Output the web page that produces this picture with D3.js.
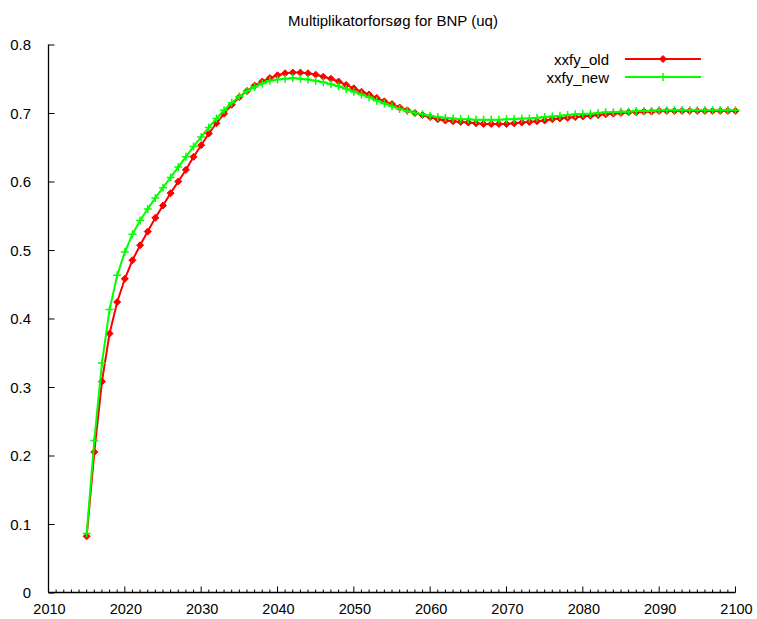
<!DOCTYPE html>
<html>
<head>
<meta charset="utf-8">
<script src="https://cdn.jsdelivr.net/npm/d3@7"></script>
<style>
  body { margin: 0; background: #fff; }
  svg text { font-family: "Liberation Sans", Arial, sans-serif; fill: #000; font-size: 15px; }
</style>
</head>
<body>
<script>
// data
let years = d3.range(2015, 2101)
let xxfy_old = [
  0.082, 0.205, 0.308, 0.378, 0.424, 0.458, 0.485, 0.507, 0.527, 0.547,
  0.565, 0.583, 0.600, 0.617, 0.636, 0.653, 0.670, 0.685, 0.699, 0.712,
  0.723, 0.732, 0.740, 0.746, 0.751, 0.755, 0.758, 0.759, 0.759, 0.758,
  0.756, 0.753, 0.750, 0.746, 0.741, 0.736, 0.731, 0.727, 0.722, 0.717,
  0.713, 0.708, 0.704, 0.700, 0.697, 0.694, 0.691, 0.689, 0.688, 0.687,
  0.686, 0.685, 0.684, 0.684, 0.684, 0.684, 0.685, 0.686, 0.687, 0.688,
  0.689, 0.691, 0.692, 0.693, 0.694, 0.695, 0.696, 0.697, 0.698, 0.699,
  0.700, 0.701, 0.701, 0.702, 0.702, 0.703, 0.703, 0.703, 0.703, 0.703,
  0.703, 0.703, 0.703, 0.703, 0.703, 0.703
]
let xxfy_new = [
  0.086, 0.222, 0.335, 0.413, 0.463, 0.497, 0.523, 0.543, 0.560, 0.576,
  0.591, 0.606, 0.621, 0.636, 0.651, 0.665, 0.679, 0.692, 0.704, 0.715,
  0.724, 0.732, 0.738, 0.743, 0.747, 0.749, 0.750, 0.751, 0.750, 0.749,
  0.747, 0.745, 0.742, 0.739, 0.735, 0.731, 0.727, 0.723, 0.718, 0.714,
  0.710, 0.706, 0.703, 0.700, 0.698, 0.696, 0.694, 0.693, 0.692, 0.691,
  0.691, 0.690, 0.690, 0.690, 0.690, 0.691, 0.691, 0.692, 0.692, 0.693,
  0.694, 0.695, 0.696, 0.697, 0.698, 0.699, 0.699, 0.700, 0.701, 0.701,
  0.702, 0.702, 0.703, 0.703, 0.703, 0.704, 0.704, 0.704, 0.704, 0.704,
  0.704, 0.704, 0.704, 0.704, 0.704, 0.704
]
let yTicks = [0, 0.1, 0.2, 0.3, 0.4, 0.5, 0.6, 0.7, 0.8]
let xTicks = [2010, 2020, 2030, 2040, 2050, 2060, 2070, 2080, 2090, 2100]
let title = "Multiplikatorforsøg for BNP (uq)"

let W = 757, H = 619
let svg = d3.select('body')
    .append('svg')
    .attr('width', W)
    .attr('height', H)

let x = d3.scaleLinear().domain([2010, 2100]).range([48.5, 735.5])
let y = d3.scaleLinear().domain([0, 0.8]).range([592.5, 44.5])

svg.append('text')
    .attr('x', 393)
    .attr('y', 26)
    .attr('text-anchor', 'middle')
    .text(title)

// axes: only left and bottom, ticks pointing inward
let yAxis = svg.append('g')
    .attr('transform', `translate(${x.range()[0]},0)`)
    .call(d3.axisRight(y).tickValues(yTicks).tickSize(6).tickFormat(''))
yAxis.select('.domain').attr('d', `M0,${y(0.8)}H0V${y(0)}`).attr('stroke-width', 1.3)
yAxis.selectAll('.tick line').attr('stroke-width', 1)

svg.selectAll('.ylab')
    .data(yTicks)
    .enter()
    .append('text')
    .attr('class', 'ylab')
    .attr('x', 31)
    .attr('y', d => y(d) + 5.5)
    .attr('text-anchor', 'end')
    .text(d => d === 0 ? '0' : d3.format('.1f')(d))

let xAxis = svg.append('g')
    .attr('transform', `translate(0,${y.range()[0]})`)
xAxis.append('path')
    .attr('d', `M${x(2010)},0H${x(2100)}`)
    .attr('stroke', 'black')
    .attr('stroke-width', 1.3)
xAxis.selectAll('line.minor')
    .data(d3.range(2010, 2101))
    .enter()
    .append('line')
    .attr('x1', d => x(d))
    .attr('x2', d => x(d))
    .attr('y1', 0)
    .attr('y2', d => d % 10 === 0 ? -6 : -3)
    .attr('stroke', 'black')
    .attr('stroke-width', 1)

svg.selectAll('.xlab')
    .data(xTicks)
    .enter()
    .append('text')
    .attr('class', 'xlab')
    .attr('x', d => x(d) + 1)
    .attr('y', 614)
    .attr('text-anchor', 'middle')
    .style('font-size', '14.5px')
    .text(d => d)

let series = [
  { name: 'xxfy_old', values: xxfy_old, color: '#ff0000', symbol: 'diamond' },
  { name: 'xxfy_new', values: xxfy_new, color: '#00ff00', symbol: 'plus' }
]

let line = d3.line()
    .x((d, i) => x(years[i]))
    .y(d => y(d))

function drawMarker(g, symbol, color) {
  if (symbol === 'diamond') {
    g.append('path')
        .attr('d', 'M0,-3.5L3.5,0L0,3.5L-3.5,0Z')
        .attr('fill', color)
        .attr('stroke', color)
        .attr('stroke-width', 1)
  } else {
    g.append('path')
        .attr('d', 'M-4,0H4M0,-4V4')
        .attr('fill', 'none')
        .attr('stroke', color)
        .attr('stroke-width', 1.5)
  }
}

series.forEach(s => {
  svg.append('path')
      .datum(s.values)
      .attr('d', line)
      .attr('fill', 'none')
      .attr('stroke', s.color)
      .attr('stroke-width', 2)
  svg.selectAll(null)
      .data(s.values)
      .enter()
      .append('g')
      .attr('transform', (d, i) => `translate(${x(years[i])},${y(d)})`)
      .each(function () { drawMarker(d3.select(this), s.symbol, s.color) })
})

// legend
let legend = svg.append('g')
series.forEach((s, i) => {
  let ly = 59 + i * 18
  legend.append('text')
      .attr('x', 609)
      .attr('y', ly + 5.5)
      .attr('text-anchor', 'end')
      .text(s.name)
  legend.append('line')
      .attr('x1', 625)
      .attr('x2', 701)
      .attr('y1', ly)
      .attr('y2', ly)
      .attr('stroke', s.color)
      .attr('stroke-width', 2)
  let mg = legend.append('g').attr('transform', `translate(663,${ly})`)
  drawMarker(mg, s.symbol, s.color)
})
</script>
</body>
</html>
